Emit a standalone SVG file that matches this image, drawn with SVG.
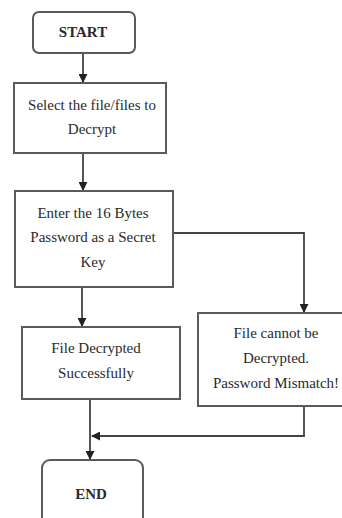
<svg xmlns="http://www.w3.org/2000/svg" width="342" height="518" viewBox="0 0 342 518">
  <style>
    .box { fill: #ffffff; stroke: #5a5a5a; stroke-width: 2; }
    .lbl { font-family: "Liberation Serif", "Times New Roman", serif; font-size: 15px; fill: #2a2a2a; text-anchor: middle; }
    .term { font-weight: bold; }
    .wire { fill: none; stroke: #444444; stroke-width: 1.8; }
  </style>
  <defs>
    <marker id="arrow" viewBox="0 0 10 10" refX="9" refY="5" markerWidth="5" markerHeight="5" orient="auto">
      <path d="M0,0 L10,5 L0,10 Z" fill="#222222"/>
    </marker>
  </defs>
  <rect width="342" height="518" fill="#ffffff"/>

  <g id="connectors">
    <line class="wire" x1="83" y1="53" x2="83" y2="82" marker-end="url(#arrow)"/>
    <line class="wire" x1="83" y1="153" x2="83" y2="190" marker-end="url(#arrow)"/>
    <polyline class="wire" points="173,233 304,233 304,312" marker-end="url(#arrow)"/>
    <line class="wire" x1="82" y1="287" x2="82" y2="326" marker-end="url(#arrow)"/>
    <line class="wire" x1="90" y1="399" x2="90" y2="459" marker-end="url(#arrow)"/>
    <polyline class="wire" points="304,406 304,436 92,436" marker-end="url(#arrow)"/>
  </g>

  <g id="start">
    <rect class="box" x="33" y="12" width="102" height="41" rx="6"/>
    <text class="lbl term" x="83" y="37">START</text>
  </g>

  <g id="select">
    <rect class="box" x="14" y="83" width="152" height="70"/>
    <text class="lbl" x="92" y="110">Select the file/files to</text>
    <text class="lbl" x="92" y="134">Decrypt</text>
  </g>

  <g id="enter">
    <rect class="box" x="15" y="191" width="158" height="96"/>
    <text class="lbl" x="93" y="218">Enter the 16 Bytes</text>
    <text class="lbl" x="93" y="242">Password as a Secret</text>
    <text class="lbl" x="93" y="267">Key</text>
  </g>

  <g id="decrypted">
    <rect class="box" x="22" y="327" width="158" height="72"/>
    <text class="lbl" x="96" y="353">File Decrypted</text>
    <text class="lbl" x="96" y="378">Successfully</text>
  </g>

  <g id="mismatch">
    <rect class="box" x="198" y="313" width="152" height="93"/>
    <text class="lbl" x="276" y="338">File cannot be</text>
    <text class="lbl" x="276" y="363">Decrypted.</text>
    <text class="lbl" x="276" y="388">Password Mismatch!</text>
  </g>

  <g id="end">
    <rect class="box" x="42" y="460" width="101" height="70" rx="8"/>
    <text class="lbl term" x="91" y="499">END</text>
  </g>
</svg>
